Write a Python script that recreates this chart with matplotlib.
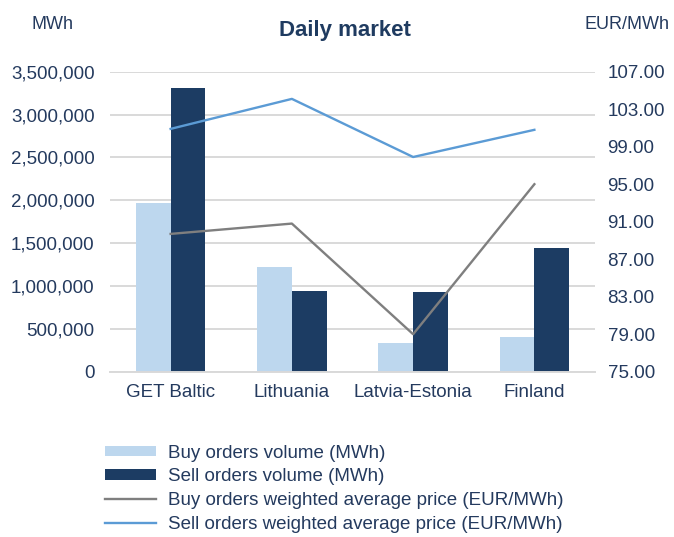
import matplotlib.pyplot as plt
import matplotlib.patches as mpatches
from matplotlib.lines import Line2D
from matplotlib.ticker import FuncFormatter
import numpy as np

plt.rcParams["font.family"] = ["Liberation Sans", "DejaVu Sans"]

categories = ["GET Baltic", "Lithuania", "Latvia-Estonia", "Finland"]
buy_volume = [1965000, 1224000, 330000, 403000]
sell_volume = [3312000, 937000, 929000, 1443000]
buy_price = [89.7, 90.8, 79.0, 95.0]
sell_price = [100.9, 104.1, 97.9, 100.8]

left_ticks = np.arange(0, 3500001, 500000)
right_ticks = np.arange(75, 107.1, 4)

navy = "#1f3b60"
light = "#bdd7ee"
dark = "#1c3c63"
grey_line = "#7f7f7f"
blue_line = "#5b9bd5"
txt = "#243a5e"

fig = plt.figure(figsize=(6.74, 5.37), dpi=100)
ax = fig.add_axes([0.1632, 0.3078, 0.7196, 0.5587])
ax2 = ax.twinx()

x = np.arange(len(categories))
w = 0.286
ax.bar(x - w / 2, buy_volume, w, color=light, zorder=2)
ax.bar(x + w / 2, sell_volume, w, color=dark, zorder=2)

ax2.plot(x, buy_price, color=grey_line, lw=1.7)
ax2.plot(x, sell_price, color=blue_line, lw=1.7)

ax.set_xlim(-0.5, 3.5)
ax.set_ylim(0, 3500000)
ax.set_yticks(left_ticks)
ax.yaxis.set_major_formatter(FuncFormatter(lambda v, p: f"{int(v):,}"))
ax.grid(axis="y", color="#d9d9d9", lw=1.4, zorder=0)
ax.set_axisbelow(True)
ax.set_xticks(x)
ax.set_xticklabels(categories)

ax2.set_ylim(75, 107)
ax2.set_yticks(right_ticks)
ax2.yaxis.set_major_formatter(FuncFormatter(lambda v, p: f"{v:.2f}"))

for a in (ax, ax2):
    for s in a.spines.values():
        s.set_visible(False)
    a.tick_params(length=0, labelsize=13.5, colors=txt)
ax.spines["bottom"].set_visible(True)
ax.spines["bottom"].set_color("#d9d9d9")
ax.spines["bottom"].set_linewidth(1.4)
ax.tick_params(axis="y", pad=11)
ax.tick_params(axis="x", pad=9)
ax2.tick_params(axis="y", pad=9)

fig.text(0.512, 0.944, "Daily market", ha="center", va="center",
         fontsize=16, fontweight="bold", color=navy)
fig.text(0.078, 0.955, "MWh", ha="center", va="center", fontsize=13, color=txt)
fig.text(0.931, 0.955, "EUR/MWh", ha="center", va="center", fontsize=13, color=txt)

handles = [
    mpatches.Patch(facecolor=light, edgecolor="none"),
    mpatches.Patch(facecolor=dark, edgecolor="none"),
    Line2D([], [], color=grey_line, lw=1.7),
    Line2D([], [], color=blue_line, lw=1.7),
]
labels = [
    "Buy orders volume (MWh)",
    "Sell orders volume (MWh)",
    "Buy orders weighted average price (EUR/MWh)",
    "Sell orders weighted average price (EUR/MWh)",
]
leg = fig.legend(handles, labels, loc="upper left", bbox_to_anchor=(0.145, 0.186),
                 frameon=False, fontsize=13.5, handlelength=2.7, handleheight=0.5,
                 labelspacing=0.36, handletextpad=0.65, borderaxespad=0)
for t in leg.get_texts():
    t.set_color(txt)

fig.savefig("out.png", dpi=100, facecolor="white")
